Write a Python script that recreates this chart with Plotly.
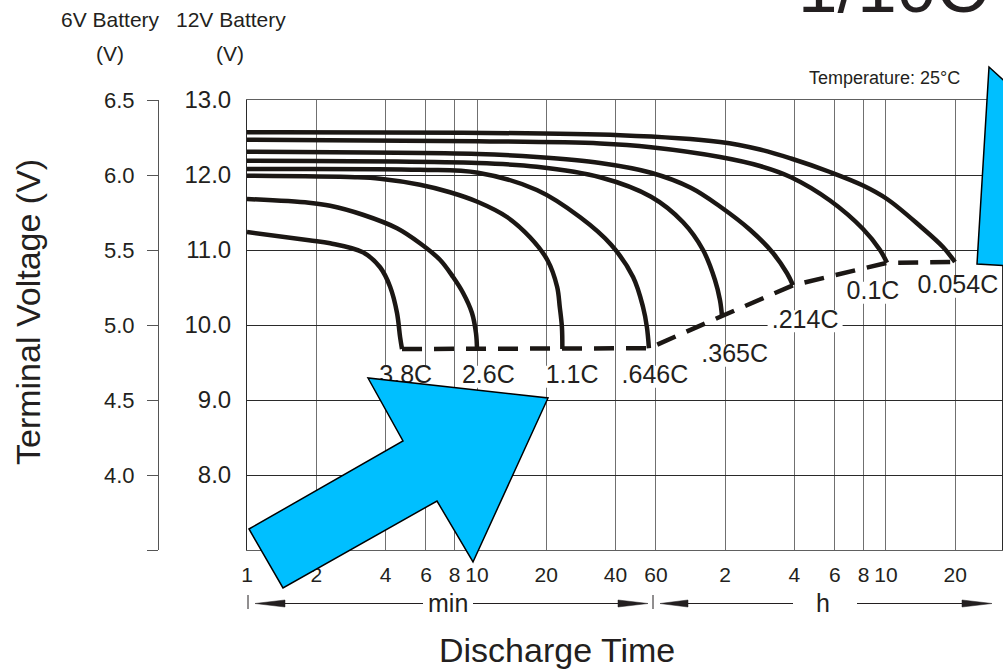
import math
import plotly.graph_objects as go

# ---------------- data (discharge time in minutes, 12 V-scale volts) ----------------
rate_labels = ["3.8C", "2.6C", "1.1C", ".646C", ".365C", ".214C", "0.1C", "0.054C"]

t_3_8C = [1.0, 1.86, 2.30, 3.19, 3.79, 4.19, 4.49, 4.63, 4.72]
v_3_8C = [11.24, 11.13, 11.09, 10.97, 10.77, 10.51, 10.16, 9.84, 9.68]

t_2_6C = [1.0, 1.86, 2.30, 3.19, 4.49, 5.65, 6.90, 7.87, 8.69, 9.51, 9.90, 10.0]
v_2_6C = [11.68, 11.63, 11.59, 11.47, 11.29, 11.09, 10.87, 10.64, 10.43, 10.16, 9.89, 9.68]

t_1_1C = [1.0, 2.95, 3.79, 5.65, 7.63, 10.1, 13.5, 17.0, 20.2, 22.3, 22.9, 23.4, 23.5]
v_1_1C = [11.99, 11.97, 11.95, 11.87, 11.77, 11.64, 11.44, 11.17, 10.87, 10.51, 10.24, 9.97, 9.68]

t_0_646C = [1.0, 5.65, 10.1, 18.2, 28.0, 38.3, 47.7, 52.7, 54.8, 55.9]
v_0_646C = [12.08, 12.07, 12.03, 11.80, 11.44, 11.07, 10.64, 10.24, 9.97, 9.69]

t_0_365C = [1.0, 10.1, 18.2, 34.3, 57.1, 78.7, 96.1, 108.3, 113.9, 116.2]
v_0_365C = [12.19, 12.16, 12.11, 11.97, 11.71, 11.37, 11.00, 10.60, 10.33, 10.12]

t_0_214C = [1.0, 10.1, 18.2, 34.3, 57.1, 85.0, 113.9, 153.8, 193.6, 222.8, 236.6]
v_0_214C = [12.31, 12.28, 12.24, 12.16, 12.03, 11.83, 11.58, 11.27, 10.96, 10.69, 10.53]

t_0_1C = [1.0, 10.1, 34.3, 57.1, 113.9, 170.0, 231.9, 342.5, 476.9, 565.1, 606.3]
v_0_1C = [12.47, 12.45, 12.42, 12.37, 12.24, 12.12, 11.97, 11.66, 11.28, 11.00, 10.83]

t_0_054C = [1.0, 41.9, 113.9, 170.0, 231.9, 342.5, 476.9, 606.3, 843.7, 1062, 1197]
v_0_054C = [12.57, 12.53, 12.44, 12.34, 12.22, 12.04, 11.86, 11.68, 11.32, 11.04, 10.84]

# label positions (minutes, volts)
label_t = [4.9, 11.2, 25.9, 59.4, 132, 267, 527, 1233]
label_v = [9.31, 9.31, 9.31, 9.31, 9.59, 10.05, 10.43, 10.51]

# axes
x_tickvals = [1, 2, 4, 6, 8, 10, 20, 40, 60, 120, 240, 360, 480, 600, 1200]
x_ticktext = ["1", "2", "4", "6", "8", "10", "20", "40", "60", "2", "4", "6", "8", "10", "20"]
y12_tickvals = [8, 9, 10, 11, 12, 13]
y12_ticktext = ["8.0", "9.0", "10.0", "11.0", "12.0", "13.0"]
y6_tickvals = [3.5, 4.0, 4.5, 5.0, 5.5, 6.0, 6.5]
y6_ticktext = ["", "4.0", "4.5", "5.0", "5.5", "6.0", "6.5"]

curves_t = [t_3_8C, t_2_6C, t_1_1C, t_0_646C, t_0_365C, t_0_214C, t_0_1C, t_0_054C]
curves_v = [v_3_8C, v_2_6C, v_1_1C, v_0_646C, v_0_365C, v_0_214C, v_0_1C, v_0_054C]

# ---------------- layout geometry ----------------
W, H = 1003, 671
ML, MR, MT, MB = 158, 1, 100, 121
PW = W - ML - MR
PH = H - MT - MB
FONT = "Liberation Sans, Arial, Helvetica, sans-serif"
INK = "#231f20"
LINE = "#1b1714"


def P(px, py):
    return (px - ML) / PW, (H - MB - py) / PH


def path(points):
    s = ""
    for i, (px, py) in enumerate(points):
        x, y = P(px, py)
        s += ("M" if i == 0 else "L") + f"{x:.5f},{y:.5f} "
    return s + "Z"


fig = go.Figure()

for t, v, name in zip(curves_t, curves_v, rate_labels):
    fig.add_trace(go.Scatter(x=t, y=v, mode="lines", name=name,
                             line=dict(color=LINE, width=4.5, shape="spline", smoothing=1.0),
                             hoverinfo="skip", showlegend=False))

end_t = [t[-1] for t in curves_t]
end_v = [v[-1] for v in curves_v]
fig.add_trace(go.Scatter(x=end_t, y=end_v, mode="lines",
                         line=dict(color=LINE, width=4.5, dash="20px,12px"),
                         hoverinfo="skip", showlegend=False))

fig.add_trace(go.Scatter(x=label_t, y=label_v, mode="text", text=rate_labels,
                         textposition="middle center",
                         textfont=dict(family=FONT, size=25, color=INK),
                         hoverinfo="skip", showlegend=False))

# invisible trace to carry the 6 V axis
fig.add_trace(go.Scatter(x=[10], y=[5], yaxis="y2", mode="markers",
                         marker=dict(opacity=0), hoverinfo="skip", showlegend=False))

shapes = []
# white boxes behind curve labels (between grid and traces)
for tx, ty, txt in zip(label_t, label_v, rate_labels):
    L = math.log10(tx)
    hw = len(txt) * 6.9 + 3
    shapes.append(dict(type="rect", xref="x", yref="y", layer="between",
                       x0=10 ** (L - hw / 230), x1=10 ** (L + hw / 230),
                       y0=ty - 11 / 75, y1=ty + 11 / 75,
                       fillcolor="white", line=dict(width=0)))

# blue arrows
BLUE = "#00BFFF"
shapes.append(dict(type="path", xref="paper", yref="paper", layer="above",
                   path=path([(249, 529), (403, 441), (368, 378), (548, 398),
                              (473, 562), (437, 501), (283, 588)]),
                   fillcolor=BLUE, line=dict(color="black", width=1.5)))
shapes.append(dict(type="path", xref="paper", yref="paper", layer="above",
                   path=path([(989, 67), (1012, 88), (1012, 266), (977, 264)]),
                   fillcolor=BLUE, line=dict(color="black", width=1.5)))

# min / h brackets
YB = 603.5


def hline(x0, x1):
    a = P(x0, YB)
    b = P(x1, YB)
    return dict(type="line", xref="paper", yref="paper", x0=a[0], y0=a[1], x1=b[0], y1=b[1],
                line=dict(color=INK, width=1))


def vtick(x):
    a = P(x, 595)
    b = P(x, 609)
    return dict(type="line", xref="paper", yref="paper", x0=a[0], y0=a[1], x1=b[0], y1=b[1],
                line=dict(color=INK, width=1))


def head(tip, base):
    return dict(type="path", xref="paper", yref="paper",
                path=path([(tip, YB), (base, YB - 3.5), (base, YB + 3.5)]),
                fillcolor=INK, line=dict(color=INK, width=0.5))


shapes += [vtick(248), hline(270, 423), hline(473, 630), head(255, 285), head(648, 618),
           vtick(653), hline(675, 793), hline(857, 975), head(660, 688), head(992, 962)]

ann = []


def text(px, py, s, size, xanchor="center", angle=0):
    x, y = P(px, py)
    ann.append(dict(x=x, y=y, xref="paper", yref="paper", text=s, showarrow=False,
                    xanchor=xanchor, yanchor="middle", textangle=angle,
                    font=dict(family=FONT, size=size, color=INK)))


text(110, 20, "6V Battery", 21)
text(110, 53, "(V)", 21)
text(231, 20, "12V Battery", 21)
text(230, 53, "(V)", 21)
text(962, 78, "Temperature: 25°C", 18, xanchor="right")
text(892, -13, "1/10C", 71)
text(448, 603, "min", 25)
text(823, 603, "h", 25)
text(557, 650, "Discharge Time", 34)
text(28, 312, "Terminal Voltage (V)", 34, angle=-90)

x0dom = (247 - ML) / PW
fig.update_layout(
    width=W, height=H, autosize=False,
    margin=dict(l=ML, r=MR, t=MT, b=MB, pad=0),
    paper_bgcolor="white", plot_bgcolor="white",
    showlegend=False,
    font=dict(family=FONT, color=INK),
    xaxis=dict(type="log", range=[0, 3.2826], domain=[x0dom, 1],
               tickvals=x_tickvals, ticktext=x_ticktext, ticks="",
               tickfont=dict(size=21, color=INK, family=FONT), ticklabelstandoff=6,
               showgrid=True, gridcolor="#707070", gridwidth=1,
               showline=True, linecolor="#606060", linewidth=1, mirror=True,
               zeroline=False),
    yaxis=dict(range=[7, 13], tickvals=y12_tickvals, ticktext=y12_ticktext, ticks="",
               tickfont=dict(size=24, color=INK, family=FONT), ticklabelstandoff=10,
               showgrid=True, gridcolor="#2a2a2a", gridwidth=1,
               showline=True, linecolor="#2a2a2a", linewidth=1, mirror=True,
               zeroline=False),
    yaxis2=dict(range=[3.5, 6.5], overlaying="y", anchor="free", position=0, side="left",
                tickvals=y6_tickvals, ticktext=y6_ticktext, ticks="outside", ticklen=11,
                tickcolor="#555555", tickwidth=1,
                tickfont=dict(size=22, color=INK, family=FONT), ticklabelstandoff=8,
                showgrid=False, showline=True, linecolor="#555555", linewidth=1,
                zeroline=False),
    shapes=shapes,
    annotations=ann,
)

fig.write_html("out.html", config={"displayModeBar": False},
               post_script="document.body.style.margin='0';")
